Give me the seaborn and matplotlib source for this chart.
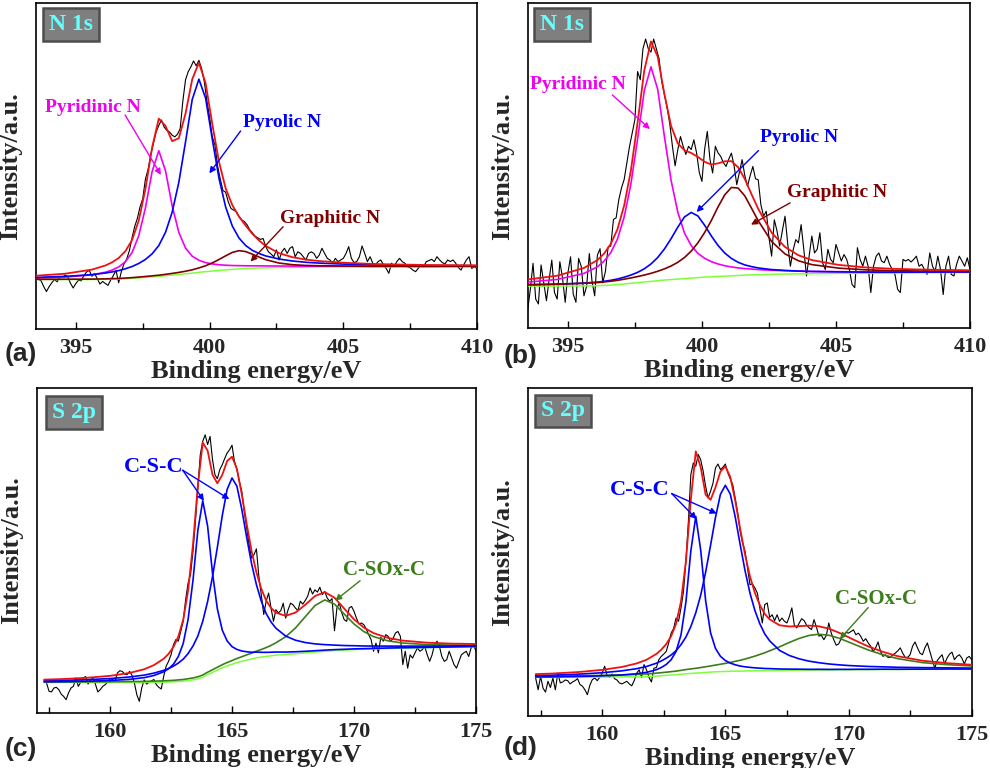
import numpy as np
import seaborn as sns
import matplotlib
matplotlib.use("Agg")
import matplotlib.pyplot as plt
from matplotlib.ticker import MultipleLocator

# ---- measured spectra (0.1 eV steps), intensity in arbitrary units ----
START_A = 393.5
RAW_A = [15.6, 15.3, 14.8, 13.0, 11.5, 13.0, 14.2, 15.2, 14.5, 16.0,
         15.8, 16.6, 16.0, 14.0, 12.6, 14.0, 15.0, 14.8, 16.4, 17.5,
         18.0, 16.2, 17.0, 15.5, 13.8, 14.6, 14.0, 13.4, 15.0, 16.4,
         18.0, 14.2, 17.6, 20.0, 21.5, 24.0, 28.0, 31.5, 34.0, 37.5,
         40.0, 46.0, 49.0, 53.5, 57.0, 60.5, 62.5, 64.2, 62.0, 61.0,
         60.5, 59.5, 59.0, 59.8, 61.5, 70.0, 76.5, 79.0, 80.5, 82.3,
         80.8, 82.5, 80.0, 76.0, 70.0, 65.0, 59.0, 56.5, 50.0, 46.0,
         42.5, 42.0, 39.0, 37.0, 36.5, 36.0, 34.5, 33.5, 33.0, 32.0,
         30.5, 29.5, 28.5, 28.0, 27.5, 27.8, 25.3, 23.7, 23.0, 22.2,
         24.3, 21.2, 23.7, 24.8, 23.2, 24.8, 25.3, 22.2, 23.7, 23.2,
         22.2, 21.2, 23.2, 23.7, 23.2, 21.7, 22.7, 24.8, 23.2, 21.7,
         21.2, 20.2, 21.7, 20.7, 21.2, 21.7, 23.2, 25.3, 21.7, 20.4,
         20.7, 22.2, 25.5, 23.2, 20.7, 22.2, 20.2, 19.7, 20.7, 21.2,
         19.7, 18.6, 17.1, 20.2, 19.1, 20.7, 21.7, 20.7, 20.2, 19.1,
         18.8, 18.1, 17.6, 18.6, 19.7, 19.1, 20.7, 21.0, 21.4, 20.7,
         22.2, 21.2, 20.4, 20.0, 21.2, 20.7, 21.2, 20.2, 18.9, 18.1,
         19.7, 21.2, 22.2, 18.6, 19.1, 18.6]

START_B = 393.5
RAW_B = [5.7, 12.0, 20.0, 9.0, 7.5, 19.5, 14.0, 8.5, 15.0, 21.0,
         11.0, 9.0, 20.5, 15.5, 8.0, 17.0, 22.0, 10.5, 8.0, 21.5,
         19.0, 10.0, 13.0, 23.0, 14.5, 10.0, 22.5, 24.5, 14.0, 17.5,
         25.0, 25.3, 33.5, 34.0, 39.6, 43.2, 45.8, 50.9, 56.0, 60.1,
         64.2, 79.0, 76.5, 86.0, 89.0, 86.0, 85.0, 89.0, 86.0, 83.0,
         76.0, 72.0, 68.0, 63.0, 56.0, 50.0, 55.0, 59.0, 56.0, 53.5,
         56.0, 55.0, 58.0, 54.0, 48.0, 45.2, 55.0, 60.6, 52.0, 47.8,
         56.0, 54.0, 52.9, 51.0, 49.8, 52.0, 53.9, 50.0, 44.2, 48.0,
         51.9, 47.0, 43.7, 47.0, 49.8, 46.0, 45.7, 38.0, 34.5, 36.0,
         28.0, 22.2, 33.4, 30.0, 25.3, 30.0, 34.5, 26.0, 19.1, 24.0,
         27.3, 26.3, 31.9, 24.3, 16.1, 22.2, 28.4, 23.2, 24.3, 29.4,
         20.2, 18.1, 24.3, 21.2, 20.2, 25.8, 23.2, 20.7, 22.7, 21.2,
         18.1, 13.5, 12.5, 24.8, 21.2, 19.1, 22.2, 19.1, 11.0, 19.1,
         22.2, 23.2, 20.7, 20.2, 22.2, 19.7, 18.1, 16.6, 12.0, 11.0,
         21.2, 20.7, 21.2, 20.4, 21.2, 22.2, 19.1, 19.7, 18.1, 16.6,
         23.2, 19.1, 17.6, 22.2, 18.1, 10.4, 19.1, 22.2, 16.6, 16.1,
         19.7, 22.2, 20.7, 19.1, 21.7, 18.1]

START_C = 157.4
RAW_C = [9.2, 6.7, 6.5, 7.7, 7.9, 7.2, 5.8, 5.1, 4.1, 6.2,
         7.7, 8.2, 10.8, 8.2, 9.5, 10.8, 11.2, 8.9, 10.3, 10.6,
         8.9, 6.5, 7.2, 8.2, 8.7, 9.5, 10.6, 10.3, 9.7, 12.3,
         13.0, 12.8, 12.0, 11.8, 12.8, 11.6, 9.2, 5.6, 3.6, 7.7,
         10.2, 8.9, 9.5, 9.9, 10.3, 8.7, 7.9, 7.4, 11.3, 14.4,
         15.9, 17.9, 21.0, 22.6, 22.1, 25.1, 28.2, 34.9, 40.0, 42.6,
         49.7, 59.0, 69.2, 79.5, 83.6, 85.6, 82.6, 85.1, 78.0, 73.3,
         72.1, 74.9, 76.4, 78.3, 80.0, 81.0, 82.4, 77.4, 74.9, 71.3,
         68.2, 62.1, 56.9, 51.8, 47.7, 48.7, 50.5, 42.0, 36.4, 30.3,
         34.4, 36.9, 32.3, 28.2, 31.8, 30.8, 31.5, 33.8, 29.2, 31.8,
         33.8, 33.3, 32.3, 31.5, 34.4, 33.5, 34.6, 35.9, 38.5, 36.6,
         37.9, 37.2, 38.7, 36.4, 37.4, 35.4, 34.4, 35.2, 25.3, 32.3,
         33.8, 30.8, 28.7, 28.2, 32.3, 32.8, 31.3, 29.2, 27.4, 27.7,
         27.2, 25.9, 24.1, 22.6, 19.0, 21.5, 18.5, 23.3, 22.1, 24.1,
         23.6, 22.1, 22.9, 24.6, 25.1, 23.6, 14.9, 19.0, 13.8, 17.9,
         16.9, 18.5, 20.0, 19.0, 19.5, 20.5, 17.9, 15.9, 17.9, 21.0,
         22.1, 20.5, 17.4, 15.9, 16.4, 19.0, 16.9, 14.9, 13.8, 15.9,
         17.9, 18.5, 19.0, 17.4, 20.0, 21.0, 19.0]

START_D = 157.3
RAW_D = [11.5, 7.9, 12.0, 8.4, 7.2, 10.5, 8.6, 11.5, 7.9, 13.0,
         10.0, 10.3, 10.9, 10.7, 9.7, 10.3, 10.7, 11.3, 9.5, 9.0,
         7.9, 6.4, 9.3, 11.0, 11.5, 10.7, 11.7, 13.0, 15.1, 12.3,
         11.7, 12.7, 11.3, 10.9, 10.0, 9.7, 10.1, 10.5, 9.7, 9.1,
         10.7, 13.0, 14.0, 11.7, 15.6, 14.0, 11.7, 10.3, 14.5, 14.7,
         17.1, 18.1, 18.8, 19.6, 22.2, 25.2, 26.6, 29.8, 28.8, 32.9,
         37.9, 47.1, 59.3, 73.6, 77.1, 76.1, 79.7, 78.1, 74.6, 70.0,
         66.4, 68.5, 71.0, 75.6, 76.8, 75.1, 75.8, 76.8, 74.1, 72.3,
         70.5, 66.4, 61.9, 56.3, 52.7, 50.2, 45.1, 40.0, 40.2, 39.0,
         37.4, 32.9, 28.3, 33.9, 34.4, 30.0, 30.8, 29.0, 30.8, 28.8,
         29.8, 28.8, 28.3, 30.3, 32.9, 27.6, 26.8, 28.3, 29.6, 29.0,
         27.6, 26.8, 26.3, 29.3, 27.0, 24.3, 24.5, 23.2, 24.5, 28.3,
         25.2, 23.2, 21.5, 21.9, 23.5, 24.5, 25.4, 25.2, 25.7, 26.2,
         24.7, 25.2, 24.2, 22.7, 23.5, 22.2, 21.2, 19.6, 20.7, 22.5,
         19.6, 18.1, 18.6, 17.8, 17.8, 18.6, 19.1, 19.8, 20.7, 19.1,
         17.8, 17.8, 18.6, 21.2, 22.5, 20.7, 19.1, 18.6, 20.7, 22.2,
         19.6, 17.1, 14.5, 16.8, 17.8, 18.6, 15.8, 17.6, 18.8, 19.4,
         17.1, 18.1, 18.6, 17.6, 15.8, 17.6, 18.1, 17.1]

# ---- fitted curves: background and peak heights above it ----
FIT_X_N = [393.5, 394.6, 395.6, 396.1, 396.35, 396.6, 396.85, 397.1, 397.35,
           397.6, 397.85, 398.1, 398.35, 398.6, 398.85, 399.1, 399.35, 399.6,
           399.85, 400.1, 400.35, 400.6, 400.85, 401.1, 401.35, 401.6, 401.85,
           402.1, 402.6, 403.1, 403.6, 404.1, 405.1, 406.1, 407.1, 408.1, 410.0]

BG_A = [15.2, 15.2, 15.2, 15.25, 15.3, 15.35, 15.45, 15.55, 15.7, 15.85, 16.0,
        16.15, 16.35, 16.55, 16.75, 16.95, 17.15, 17.4, 17.6, 17.8, 18.0, 18.15,
        18.3, 18.45, 18.55, 18.65, 18.75, 18.8, 18.9, 18.95, 19.0, 19.05, 19.1,
        19.1, 19.15, 19.15, 19.2]
PYRIDINIC_A = [0.44, 0.74, 1.43, 2.17, 2.78, 3.7, 5.2, 7.9, 12.9, 21.3, 32.3,
               38.6, 32.3, 21.3, 12.9, 7.9, 5.2, 3.7, 2.78, 2.17, 1.74, 1.43,
               1.19, 1.0, 0.86, 0.74, 0.65, 0.57, 0.45, 0.37, 0.30, 0.26, 0.19,
               0.15, 0.11, 0.09, 0.07]
PYROLIC_A = [0.65, 0.96, 1.49, 1.93, 2.22, 2.58, 3.04, 3.63, 4.42, 5.50, 7.08,
             9.47, 13.3, 19.3, 28.3, 40.5, 53.3, 59.3, 53.3, 40.5, 28.3, 19.3,
             13.3, 9.47, 7.08, 5.50, 4.42, 3.63, 2.58, 1.93, 1.49, 1.18, 0.80,
             0.58, 0.44, 0.34, 0.23]
GRAPHITIC_A = [0.06, 0.08, 0.12, 0.14, 0.16, 0.17, 0.19, 0.22, 0.24, 0.28, 0.32,
               0.37, 0.43, 0.52, 0.63, 0.79, 1.02, 1.35, 1.82, 2.48, 3.34, 4.32,
               5.22, 5.6, 5.22, 4.32, 3.34, 2.48, 1.35, 0.79, 0.52, 0.37, 0.22,
               0.14, 0.10, 0.07, 0.045]

BG_B = [13.0, 13.0, 13.05, 13.1, 13.2, 13.3, 13.45, 13.65, 13.85, 14.05, 14.25,
        14.45, 14.65, 14.85, 15.0, 15.15, 15.3, 15.45, 15.6, 15.75, 15.85, 15.95,
        16.05, 16.15, 16.25, 16.35, 16.45, 16.5, 16.6, 16.7, 16.75, 16.8, 16.9,
        16.95, 17.0, 17.1, 17.2]
PYRIDINIC_B = [1.21, 2.03, 3.84, 5.81, 7.46, 10.0, 14.0, 20.6, 30.5, 44.2, 58.9,
               66.0, 58.9, 44.2, 30.5, 20.6, 14.0, 10.0, 7.46, 5.81, 4.66, 3.84,
               3.21, 2.73, 2.34, 2.03, 1.78, 1.57, 1.25, 1.02, 0.84, 0.71, 0.52,
               0.40, 0.32, 0.26, 0.18]
PYROLIC_B = [0.38, 0.56, 0.86, 1.11, 1.27, 1.47, 1.73, 2.08, 2.53, 3.16, 4.06,
             5.35, 7.13, 9.55, 12.58, 15.98, 18.97, 20.2, 18.97, 15.98, 12.58,
             9.55, 7.13, 5.35, 4.06, 3.16, 2.53, 2.08, 1.47, 1.11, 0.86, 0.69,
             0.47, 0.34, 0.26, 0.20, 0.13]
GRAPHITIC_B = [0.44, 0.59, 0.81, 0.97, 1.07, 1.19, 1.32, 1.47, 1.65, 1.87, 2.14,
               2.47, 2.90, 3.44, 4.18, 5.16, 6.49, 8.30, 10.7, 13.7, 17.3, 21.4,
               25.0, 27.2, 26.9, 24.4, 20.5, 16.6, 10.1, 6.19, 4.03, 2.80, 1.62,
               1.05, 0.74, 0.54, 0.34]

FIT_X_S = [157.3, 158.0, 159.0, 160.0, 160.8, 161.4, 161.8, 162.2, 162.4, 162.6,
           162.8, 163.0, 163.2, 163.4, 163.6, 163.8, 164.0, 164.2, 164.4, 164.6,
           164.8, 165.0, 165.2, 165.4, 165.6, 165.8, 166.0, 166.2, 166.4, 166.6,
           166.8, 167.2, 167.6, 168.0, 168.4, 168.8, 169.2, 169.6, 170.0, 170.4,
           170.8, 171.4, 172.0, 173.0, 174.0, 175.0]

BG_C = [9.4, 9.4, 9.4, 9.4, 9.4, 9.4, 9.45, 9.5, 9.55, 9.6, 9.7, 9.8, 10.0, 10.2,
        10.5, 11.0, 11.8, 12.5, 13.2, 13.9, 14.5, 15.0, 15.5, 15.9, 16.3, 16.6,
        17.0, 17.2, 17.4, 17.6, 17.8, 18.0, 18.25, 18.5, 18.75, 19.0, 19.2, 19.35,
        19.5, 19.6, 19.7, 19.85, 19.95, 20.1, 20.25, 20.4]
CSC1_C = [0.21, 0.26, 0.38, 0.60, 0.96, 1.48, 2.10, 3.18, 4.07, 5.42, 7.68, 11.6,
          18.8, 30.6, 45.7, 54.3, 45.7, 30.6, 18.8, 11.6, 7.68, 5.42, 4.07, 3.18,
          2.55, 2.10, 1.74, 1.48, 1.26, 1.10, 0.96, 0.75, 0.60, 0.49, 0.41, 0.35,
          0.30, 0.26, 0.23, 0.20, 0.18, 0.15, 0.13, 0.10, 0.08, 0.07]
CSC2_C = [0.53, 0.62, 0.84, 1.20, 1.69, 2.26, 2.83, 3.62, 4.15, 4.82, 5.67, 6.78,
          8.29, 10.4, 13.2, 17.2, 22.5, 29.4, 37.8, 46.8, 54.3, 57.3, 54.3, 46.8,
          37.8, 29.4, 22.5, 17.2, 13.2, 10.4, 8.29, 5.67, 4.15, 3.19, 2.52, 2.04,
          1.69, 1.41, 1.20, 1.03, 0.90, 0.74, 0.62, 0.48, 0.38, 0.31]
SOX_C = [0.14, 0.15, 0.19, 0.23, 0.28, 0.32, 0.36, 0.40, 0.43, 0.46, 0.49, 0.52,
         0.55, 0.59, 0.64, 0.69, 0.74, 0.81, 0.88, 0.95, 1.04, 1.14, 1.27, 1.41,
         1.58, 1.79, 2.04, 2.34, 2.73, 3.21, 3.81, 5.47, 7.9, 11.1, 14.3, 15.8,
         14.3, 11.1, 7.9, 5.47, 3.81, 2.34, 1.58, 0.95, 0.64, 0.46]

BG_D = [11.7, 11.7, 11.75, 11.8, 11.85, 11.9, 11.95, 12.1, 12.2, 12.3, 12.4, 12.5,
        12.65, 12.8, 12.9, 13.0, 13.1, 13.2, 13.3, 13.4, 13.45, 13.5, 13.55, 13.6,
        13.6, 13.65, 13.7, 13.7, 13.75, 13.75, 13.8, 13.8, 13.85, 13.9, 13.9,
        13.95, 13.95, 14.0, 14.0, 14.05, 14.05, 14.1, 14.1, 14.15, 14.2, 14.2]
CSC1_D = [0.12, 0.15, 0.22, 0.36, 0.57, 0.89, 1.27, 1.94, 2.50, 3.33, 4.68, 7.12,
          12.0, 21.9, 37.4, 47.8, 37.4, 21.9, 12.0, 7.12, 4.68, 3.33, 2.50, 1.94,
          1.55, 1.27, 1.05, 0.89, 0.76, 0.66, 0.57, 0.45, 0.36, 0.29, 0.25, 0.21,
          0.18, 0.15, 0.14, 0.12, 0.11, 0.09, 0.08, 0.06, 0.05, 0.04]
CSC2_D = [0.56, 0.67, 0.91, 1.31, 1.84, 2.45, 3.06, 3.92, 4.51, 5.23, 6.13, 7.33,
          9.03, 11.2, 14.3, 18.4, 23.7, 30.6, 38.7, 47.1, 54.1, 56.8, 54.1, 47.1,
          38.7, 30.6, 23.7, 18.4, 14.3, 11.2, 9.03, 6.13, 4.51, 3.45, 2.74, 2.22,
          1.84, 1.53, 1.31, 1.12, 0.98, 0.81, 0.67, 0.52, 0.41, 0.33]
SOX_D = [0.31, 0.35, 0.42, 0.51, 0.61, 0.71, 0.78, 0.88, 0.93, 0.98, 1.04, 1.11,
         1.19, 1.28, 1.37, 1.47, 1.60, 1.73, 1.88, 2.05, 2.25, 2.46, 2.71, 2.99,
         3.30, 3.65, 4.03, 4.48, 4.94, 5.45, 6.01, 7.22, 8.50, 9.69, 10.6, 10.9,
         10.6, 9.69, 8.50, 7.22, 6.01, 4.48, 3.30, 2.05, 1.37, 0.98]

N_TICKS = [395, 400, 405, 410]
S_TICKS = [160, 165, 170, 175]

RED = "#EE1111"
MAGENTA = "#F000F0"
BLUE = "#0000FF"
BROWN = "#800000"
DKGREEN = "#3C7D1C"
LTGREEN = "#7FFF3A"

sns.set_theme(style="ticks")
plt.rcParams["font.family"] = ["Liberation Serif", "DejaVu Serif"]
plt.rcParams["font.weight"] = "bold"
plt.rcParams["axes.labelweight"] = "bold"


def line(ax, x, y, color, lw, z):
    sns.lineplot(x=x, y=y, ax=ax, color=color, linewidth=lw, estimator=None,
                 sort=False, legend=False, zorder=z)


def plot_panel(ax, start, raw, fit_x, bg, comps, colors):
    raw_x = start + 0.1 * np.arange(len(raw))
    line(ax, raw_x, raw, "black", 0.8, 2)
    bg = np.array(bg)
    line(ax, fit_x, bg, LTGREEN, 1.1, 3)
    total = bg.copy()
    for comp, col in zip(comps, colors):
        comp = np.array(comp)
        total = total + comp
        line(ax, fit_x, bg + comp, col, 1.2, 4)
    line(ax, fit_x, total, RED, 1.3, 5)


def style_axes(ax, xlim, ticks, badge, badge_xy):
    ax.set_xlim(*xlim)
    ax.set_ylim(0, 100)
    ax.set_yticks([])
    ax.set_xticks(ticks)
    ax.xaxis.set_minor_locator(MultipleLocator(2.5))
    ax.tick_params(axis="x", which="major", direction="in", length=5, width=1,
                   labelsize=16, pad=6.5, top=False, color="black")
    ax.tick_params(axis="x", which="minor", direction="in", length=4, width=1,
                   top=False, color="black")
    for s in ax.spines.values():
        s.set_visible(True)
        s.set_linewidth(1.2)
        s.set_color("black")
    ax.set_xlabel("Binding energy/eV", fontsize=19)
    ax.xaxis.set_label_coords(0.5, -0.095)
    ax.set_ylabel("Intensity/a.u.", fontsize=19, labelpad=10)
    ax.text(badge_xy[0], badge_xy[1], badge, transform=ax.transAxes,
            ha="center", va="center", fontsize=17, color="#66FFFF", zorder=10,
            bbox=dict(boxstyle="square,pad=0.25", fc="#7F7F7F", ec="#4D4D4D", lw=1.8))


def label(ax, text, xy, tail, tips, color, size=14):
    ax.text(xy[0], xy[1], text, color=color, fontsize=size, ha="left", va="center",
            zorder=10)
    for tip in tips:
        ax.annotate("", xy=tip, xytext=tail,
                    arrowprops=dict(arrowstyle="-|>", color=color, lw=1.0,
                                    mutation_scale=9, shrinkA=0, shrinkB=0),
                    zorder=10)


fig = plt.figure(figsize=(9.9, 7.68), dpi=100)
ax_a = fig.add_axes([0.0361, 0.5716, 0.4458, 0.4241])
ax_b = fig.add_axes([0.5330, 0.5725, 0.4468, 0.4232])
ax_c = fig.add_axes([0.0372, 0.0716, 0.4436, 0.4232])
ax_d = fig.add_axes([0.5336, 0.0681, 0.4479, 0.4267])

n_colors = [MAGENTA, BLUE, BROWN]
plot_panel(ax_a, START_A, RAW_A, FIT_X_N, BG_A,
           [PYRIDINIC_A, PYROLIC_A, GRAPHITIC_A], n_colors)
plot_panel(ax_b, START_B, RAW_B, FIT_X_N, BG_B,
           [PYRIDINIC_B, PYROLIC_B, GRAPHITIC_B], n_colors)
s_colors = [DKGREEN, BLUE, BLUE]
plot_panel(ax_c, START_C, RAW_C, FIT_X_S, BG_C, [SOX_C, CSC1_C, CSC2_C], s_colors)
plot_panel(ax_d, START_D, RAW_D, FIT_X_S, BG_D, [SOX_D, CSC1_D, CSC2_D], s_colors)

style_axes(ax_a, (393.5, 410), N_TICKS, "N 1s", (0.080, 0.934))
style_axes(ax_b, (393.5, 410), N_TICKS, "N 1s", (0.078, 0.936))
style_axes(ax_c, (157, 175), S_TICKS, "S 2p", (0.085, 0.925))
style_axes(ax_d, (157, 175), S_TICKS, "S 2p", (0.078, 0.930))

label(ax_a, "Pyridinic N", (393.85, 68.1), (396.84, 65.7), [(398.18, 47.3)], MAGENTA)
label(ax_a, "Pyrolic N", (401.23, 63.4), (401.16, 60.8), [(399.99, 47.8)], BLUE)
label(ax_a, "Graphitic N", (402.63, 34.0), (402.75, 31.4), [(401.53, 20.7)], BROWN)

label(ax_b, "Pyridinic N", (393.59, 74.9), (396.66, 71.8), [(398.06, 61.3)], MAGENTA)
label(ax_b, "Pyrolic N", (402.17, 58.8), (402.11, 54.7), [(399.8, 35.8)], BLUE)
label(ax_b, "Graphitic N", (403.16, 41.8), (403.29, 38.6), [(401.83, 31.9)], BROWN)

label(ax_c, "C-S-C", (160.55, 75.8), (162.98, 74.7),
      [(163.85, 65.3), (164.89, 65.8)], BLUE, size=16)
label(ax_c, "C-SOx-C", (169.56, 44.0), (170.25, 40.7), [(169.23, 34.6)], DKGREEN, size=15)

label(ax_d, "C-S-C", (160.32, 68.9), (162.82, 67.8),
      [(163.83, 60.0), (164.65, 61.7)], BLUE, size=16)
label(ax_d, "C-SOx-C", (169.45, 35.6), (170.80, 33.0), [(169.65, 23.4)], DKGREEN, size=15)

sans = ["Liberation Sans", "DejaVu Sans"]
fig.text(0.005, 0.539, "(a)", fontsize=19, family=sans, weight="bold", va="center")
fig.text(0.509, 0.536, "(b)", fontsize=19, family=sans, weight="bold", va="center")
fig.text(0.005, 0.025, "(c)", fontsize=19, family=sans, weight="bold", va="center")
fig.text(0.509, 0.026, "(d)", fontsize=19, family=sans, weight="bold", va="center")

fig.savefig("out.png", dpi=100)
